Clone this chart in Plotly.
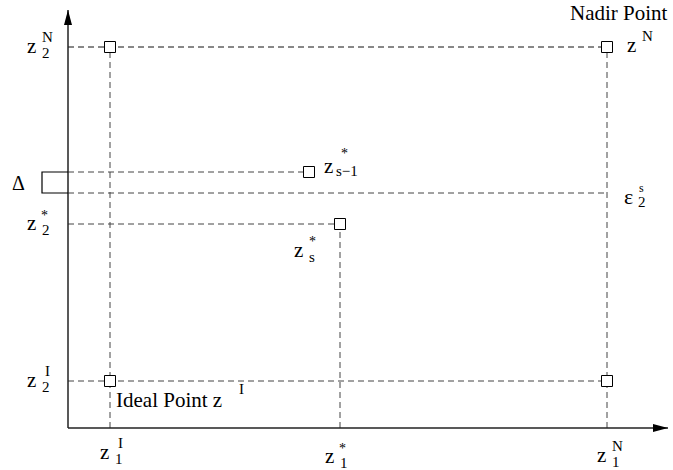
import plotly.graph_objects as go

# Objective values (z1 horizontal, z2 vertical)
z1_ideal, z1_star, z1_prev, z1_nadir = 1.05, 6.8, 6.025, 13.475
z2_ideal, z2_star, z2_eps, z2_prev, z2_nadir = 1.175, 5.1, 5.875, 6.4, 9.525

# Axis extent
x_min, x_max = -1.7, 15.125
y_min, y_max = -1.05, 10.7
x_tip, y_tip = 15.0, 10.45
bracket_x = -0.65

W, H = 673, 470
px_x = W / (x_max - x_min)
px_y = H / (y_max - y_min)

SERIF = "Liberation Serif, Times New Roman, serif"
DASH = "6px,4px"

fig = go.Figure()


def dashed(xs, ys, color="#444"):
    fig.add_trace(go.Scatter(x=xs, y=ys, mode="lines", hoverinfo="skip",
                             line=dict(color=color, width=1, dash=DASH)))


# Guide lines
dashed([0, z1_nadir], [z2_nadir, z2_nadir], "#111")
dashed([0, z1_prev], [z2_prev, z2_prev])
dashed([0, z1_nadir], [z2_eps, z2_eps])
dashed([0, z1_star], [z2_star, z2_star])
dashed([0, z1_nadir], [z2_ideal, z2_ideal])
dashed([z1_ideal, z1_ideal], [0, z2_nadir])
dashed([z1_star, z1_star], [0, z2_star])
dashed([z1_nadir, z1_nadir], [0, z2_nadir])

# Points
pts_x = [z1_ideal, z1_nadir, z1_ideal, z1_nadir, z1_prev, z1_star]
pts_y = [z2_nadir, z2_nadir, z2_ideal, z2_ideal, z2_prev, z2_star]
fig.add_trace(go.Scatter(x=pts_x, y=pts_y, mode="markers", hoverinfo="skip",
                         marker=dict(symbol="square", size=11, color="white",
                                     line=dict(color="black", width=1))))

# Axes with arrowheads
ax_line = dict(color="#222", width=1.5)
fig.add_shape(type="line", x0=0, y0=0, x1=x_tip, y1=0, line=ax_line)
fig.add_shape(type="line", x0=0, y0=0, x1=0, y1=y_tip, line=ax_line)
hl, hw = 15, 4
fig.add_shape(type="path", fillcolor="black", line=dict(width=0),
              path=f"M {x_tip},0 L {x_tip - hl / px_x},{hw / px_y} "
                   f"L {x_tip - hl / px_x},{-hw / px_y} Z")
fig.add_shape(type="path", fillcolor="black", line=dict(width=0),
              path=f"M 0,{y_tip} L {hw / px_x},{y_tip - hl / px_y} "
                   f"L {-hw / px_x},{y_tip - hl / px_y} Z")

# Delta bracket
fig.add_shape(type="path", line=dict(color="black", width=1.2),
              path=f"M 0,{z2_prev} L {bracket_x},{z2_prev} "
                   f"L {bracket_x},{z2_eps} L 0,{z2_eps}")


def put(x, y, text, dx, dy, size=21, anchor="center"):
    fig.add_annotation(x=x, y=y, text=text, showarrow=False,
                       xshift=dx, yshift=dy, xanchor=anchor, yanchor="middle",
                       font=dict(family=SERIF, size=size, color="black"))


def sym(x, y, dx, dy, sup, sub):
    # z with stacked superscript / subscript
    put(x, y, "z", dx, dy + 2)
    if sup == "*":
        put(x, y, "*", dx + 13, dy + 10, 14)
    elif sup:
        put(x, y, sup, dx + 16, dy + 11, 15)
    if sub:
        put(x, y, sub, dx + 15, dy - 5, 15, "left" if len(sub) > 1 else "center")


# Vertical axis labels
sym(0, z2_nadir, -37, -1, "N", "2")
sym(0, z2_star, -37, -1, "*", "2")
sym(0, z2_ideal, -37, -1, "I", "2")
put(0, (z2_prev + z2_eps) / 2, "Δ", -50, 0, 20)

# Horizontal axis labels
sym(z1_ideal, 0, -6, -26, "I", "1")
sym(z1_star, 0, -11, -30, "*", "1")
sym(z1_nadir, 0, -6, -29, "N", "1")

# Point labels
put(z1_nadir, z2_nadir, "Nadir Point", 12, 34)
sym(z1_nadir, z2_nadir, 24, 0, "N", None)
put(z1_nadir, z2_eps, "ε", 21, -3, 22)
put(z1_nadir, z2_eps, "s", 34, 5, 12)
put(z1_nadir, z2_eps, "2", 35, -9, 15)
put(z1_ideal, z2_ideal, "Ideal Point z", 4, -19, 21, "left")
put(z1_ideal, z2_ideal, "I", 131, -8, 15)
put(z1_prev, z2_prev, "z", 19, 6, 21)
put(z1_prev, z2_prev, "*", 35, 19, 14)
put(z1_prev, z2_prev, "s−1", 25, 1, 15, "left")
put(z1_star, z2_star, "z", -42, -26, 21)
put(z1_star, z2_star, "*", -28, -17, 14)
put(z1_star, z2_star, "s", -28, -33, 15)

fig.update_layout(
    width=W, height=H, margin=dict(l=0, r=0, t=0, b=0),
    paper_bgcolor="white", plot_bgcolor="white", showlegend=False,
    font=dict(family=SERIF),
    xaxis=dict(range=[x_min, x_max], visible=False, fixedrange=True),
    yaxis=dict(range=[y_min, y_max], visible=False, fixedrange=True),
)

fig.write_html("out.html")
